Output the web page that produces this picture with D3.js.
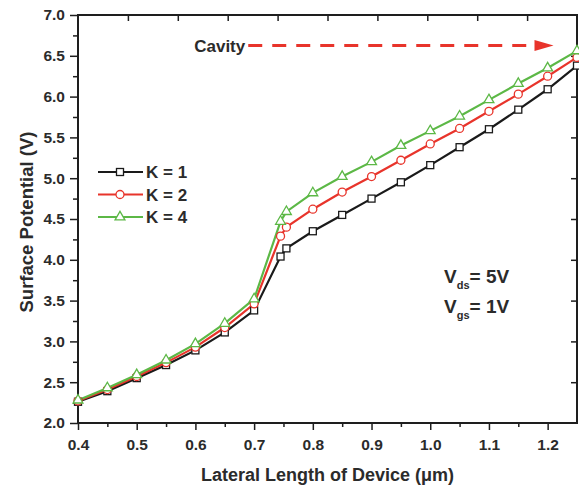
<!DOCTYPE html>
<html>
<head>
<meta charset="utf-8">
<script src="https://cdn.jsdelivr.net/npm/d3@7"></script>
<style>
  body { margin: 0; background: #fff; }
  text { font-family: "Liberation Sans", Arial, sans-serif; font-weight: bold; fill: #2b2b2b; }
</style>
</head>
<body>
<div id="chart"></div>
<script>
const xValues = [0.4, 0.45, 0.5, 0.55, 0.6, 0.65, 0.7, 0.745, 0.755, 0.8, 0.85, 0.9, 0.95, 1.0, 1.05, 1.1, 1.15, 1.2, 1.25];
const k1Values = [2.26, 2.39, 2.55, 2.71, 2.89, 3.11, 3.38, 4.04, 4.14, 4.35, 4.55, 4.75, 4.95, 5.16, 5.38, 5.60, 5.84, 6.09, 6.38];
const k2Values = [2.27, 2.41, 2.57, 2.74, 2.93, 3.17, 3.46, 4.29, 4.40, 4.62, 4.83, 5.02, 5.22, 5.42, 5.61, 5.82, 6.03, 6.25, 6.48];
const k4Values = [2.28, 2.43, 2.59, 2.77, 2.97, 3.22, 3.52, 4.47, 4.59, 4.82, 5.02, 5.20, 5.40, 5.58, 5.76, 5.96, 6.16, 6.35, 6.56];
const seriesNames = ['K = 1', 'K = 2', 'K = 4'];
const xTickValues = [0.4, 0.5, 0.6, 0.7, 0.8, 0.9, 1.0, 1.1, 1.2];
const yTickValues = [2.0, 2.5, 3.0, 3.5, 4.0, 4.5, 5.0, 5.5, 6.0, 6.5, 7.0];
const cavityRange = [0.69, 1.21];

const width = 499;
const height = 408;
const margin = { top: 15, right: 2, bottom: 64, left: 78 };
const font = '"Liberation Sans", Arial, sans-serif';

const svg = d3.select('#chart')
  .append('svg')
  .attr('width', 579)
  .attr('height', 487);

const g = svg.append('g')
  .attr('transform', `translate(${margin.left},${margin.top})`);

const x = d3.scaleLinear().domain([0.4, 1.25]).range([0, width]);
const y = d3.scaleLinear().domain([2.0, 7.0]).range([height, 0]);

const axisColor = '#1e1e1e';

// minor ticks first
g.append('g')
  .attr('transform', `translate(0,${height})`)
  .call(d3.axisBottom(x).tickValues(d3.range(0.45, 1.25, 0.1)).tickSize(4).tickFormat(''))
  .call(a => a.select('.domain').remove())
  .selectAll('line').attr('stroke', axisColor).attr('stroke-width', 1.5);

g.append('g')
  .call(d3.axisLeft(y).tickValues(d3.range(2.25, 7, 0.5)).tickSize(5).tickFormat(''))
  .call(a => a.select('.domain').remove())
  .selectAll('line').attr('stroke', axisColor).attr('stroke-width', 1.5);

// bottom axis
const xAxis = g.append('g')
  .attr('transform', `translate(0,${height})`)
  .call(d3.axisBottom(x).tickValues(xTickValues).tickSize(7).tickPadding(9).tickFormat(d3.format('.1f')));
xAxis.selectAll('line').attr('stroke', axisColor).attr('stroke-width', 1.5);
xAxis.selectAll('text').style('font-size', '15.5px').style('font-family', font);
xAxis.select('.domain').remove();

// left axis
const yAxis = g.append('g')
  .call(d3.axisLeft(y).tickValues(yTickValues).tickSize(8).tickPadding(5).tickFormat(d3.format('.1f')));
yAxis.selectAll('line').attr('stroke', axisColor).attr('stroke-width', 1.5);
yAxis.selectAll('text').style('font-size', '15.5px').style('font-family', font);
yAxis.select('.domain').remove();

// right axis, inward ticks
const yRight = g.append('g')
  .attr('transform', `translate(${width},0)`)
  .call(d3.axisLeft(y).tickValues(yTickValues.slice(1, -1)).tickSize(6).tickFormat(''));
yRight.selectAll('line').attr('stroke', axisColor).attr('stroke-width', 1.5);
yRight.select('.domain').remove();

// top axis, inward ticks (unlinked, 10 equal divisions)
const xTop = d3.scaleLinear().domain([0, 10]).range([0, width]);
const topAxis = g.append('g')
  .call(d3.axisBottom(xTop).tickValues(d3.range(1, 10)).tickSize(6).tickFormat(''));
topAxis.selectAll('line').attr('stroke', axisColor).attr('stroke-width', 1.5);
topAxis.select('.domain').remove();

// frame
g.append('rect')
  .attr('width', width)
  .attr('height', height)
  .attr('fill', 'none')
  .attr('stroke', axisColor)
  .attr('stroke-width', 2);

const series = [
  { name: seriesNames[0], values: k1Values, color: '#1a1a1a', shape: 'square' },
  { name: seriesNames[1], values: k2Values, color: '#e8342b', shape: 'circle' },
  { name: seriesNames[2], values: k4Values, color: '#5cb846', shape: 'triangle' }
];

const line = d3.line()
  .x((d, i) => x(xValues[i]))
  .y(d => y(d));

function drawMarker(sel, shape, color) {
  if (shape === 'square') {
    sel.append('rect').attr('x', -3.5).attr('y', -3.5).attr('width', 7).attr('height', 7)
      .attr('fill', '#fff').attr('stroke', color).attr('stroke-width', 1.3);
  } else if (shape === 'circle') {
    sel.append('circle').attr('r', 4)
      .attr('fill', '#fff').attr('stroke', color).attr('stroke-width', 1.3);
  } else {
    sel.append('path').attr('d', d3.symbol().type(d3.symbolTriangle).size(42)())
      .attr('fill', '#fff').attr('stroke', color).attr('stroke-width', 1.3);
  }
}

const plot = g.append('g');
series.forEach(s => {
  plot.append('path')
    .datum(s.values)
    .attr('fill', 'none')
    .attr('stroke', s.color)
    .attr('stroke-width', 2.2)
    .attr('d', line);
});
series.forEach(s => {
  plot.selectAll(null)
    .data(s.values)
    .enter()
    .append('g')
    .attr('transform', (d, i) => `translate(${x(xValues[i])},${y(d)})`)
    .each(function () { drawMarker(d3.select(this), s.shape, s.color); });
});

// legend
const legend = svg.append('g').attr('transform', 'translate(98,172)');
series.forEach((s, i) => {
  const row = legend.append('g').attr('transform', `translate(0,${i * 22.5})`);
  row.append('line').attr('x1', 0).attr('x2', 45).attr('stroke', s.color).attr('stroke-width', 2.2);
  drawMarker(row.append('g').attr('transform', 'translate(22,0)'), s.shape, s.color);
  row.append('text').attr('x', 48).attr('y', 6).style('font-size', '17px').text(s.name);
});

// cavity annotation
g.append('text')
  .attr('x', x(cavityRange[0]) - 3)
  .attr('y', 37)
  .attr('text-anchor', 'end')
  .style('font-size', '17px')
  .text('Cavity');

const red = '#e8342b';
const tip = x(cavityRange[1]);
g.append('line')
  .attr('x1', x(cavityRange[0]))
  .attr('x2', tip - 18)
  .attr('y1', 30.5).attr('y2', 30.5)
  .attr('stroke', red)
  .attr('stroke-width', 3)
  .attr('stroke-dasharray', '14,10');
g.append('path')
  .attr('d', `M${tip - 19},25 L${tip},30.5 L${tip - 19},36 Z`)
  .attr('fill', red);

// bias annotation
const bias = svg.append('g').attr('transform', 'translate(444,283)');
[['ds', '5V'], ['gs', '1V']].forEach((b, i) => {
  const t = bias.append('text').attr('y', i * 30).style('font-size', '19px');
  t.append('tspan').text('V');
  t.append('tspan').attr('dy', 6).style('font-size', '11px').text(b[0]);
  t.append('tspan').attr('dy', -6).text('= ' + b[1]);
});

// axis titles
svg.append('text')
  .attr('x', margin.left + width / 2)
  .attr('y', 481)
  .attr('text-anchor', 'middle')
  .style('font-size', '18px')
  .text('Lateral Length of Device (\u03bcm)');

svg.append('text')
  .attr('transform', `translate(33,${margin.top + height / 2 + 3}) rotate(-90)`)
  .attr('text-anchor', 'middle')
  .style('font-size', '18.5px')
  .text('Surface Potential (V)');
</script>
</body>
</html>
